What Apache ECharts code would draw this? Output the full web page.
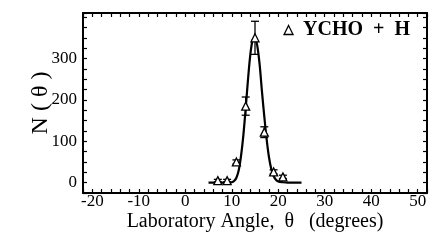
<!DOCTYPE html>
<html>
<head>
<meta charset="utf-8">
<script src="https://cdn.jsdelivr.net/npm/echarts@6/dist/echarts.min.js"></script>
<style>
  html, body { margin: 0; padding: 0; background: #fff; }
  #chart { width: 430px; height: 244px; }
</style>
</head>
<body>
<div id="chart"></div>
<script>
// measured points (angle, counts, error)
const angles = [7, 9, 11, 13, 15, 17, 19, 21];
const counts = [5, 5, 50, 185, 350, 122, 26, 14];
const errors = [3, 3, 5, 22, 40, 13, 5, 4];

// fitted curve
const fitX = [5, 6, 7, 8, 9, 10, 10.5, 11, 11.5, 12, 12.5, 13, 13.5, 14, 14.5, 15, 15.5, 16, 16.5, 17, 17.5, 18, 18.5, 19, 19.5, 20, 21, 22, 23, 24, 25];
const fitY = [0, 0, 0, 0, 0, 1, 4, 12, 30, 65, 115, 180, 250, 310, 345, 350, 330, 285, 220, 160, 105, 62, 33, 16, 7, 3, 1, 0, 0, 0, 0];

const serif = "Liberation Serif";

const chart = echarts.init(document.getElementById("chart"));

const xBase = {
  type: "value",
  min: -22,
  max: 52,
  interval: 2,
  axisLine: { show: true, onZero: false, lineStyle: { color: "#000", width: 2 } },
  axisTick: { inside: true, length: 4, lineStyle: { color: "#000", width: 1.2 } },
  splitLine: { show: false },
};
const yBase = {
  type: "value",
  min: -25,
  max: 410,
  interval: 25,
  axisLine: { show: true, onZero: false, lineStyle: { color: "#000", width: 2 } },
  axisTick: { inside: true, length: 4, lineStyle: { color: "#000", width: 1.2 } },
  splitLine: { show: false },
};

chart.setOption({
  animation: false,
  grid: { left: 83, right: 2, top: 13, bottom: 51 },
  legend: {
    data: [{
      name: "YCHO + H",
      icon: "triangle",
      itemStyle: { color: "#fff", borderColor: "#000", borderWidth: 1.3, opacity: 1 },
    }],
    right: 15,
    top: 15,
    itemWidth: 9,
    itemHeight: 9,
    itemGap: 8,
    formatter: () => " YCHO  +  H",
    textStyle: { fontFamily: serif, fontSize: 20, fontWeight: "bold", color: "#000" },
  },
  xAxis: [
    Object.assign({}, xBase, {
      position: "bottom",
      name: "Laboratory Angle,  \u03b8   (degrees)",
      nameLocation: "middle",
      nameGap: 19,
      nameMoveOverlap: false,
      nameTextStyle: { fontFamily: serif, fontSize: 20, color: "#000" },
      axisLabel: {
        fontFamily: serif,
        fontSize: 17,
        color: "#000",
        margin: 0,
        formatter: (v) => (v % 10 === 0 ? String(v) : ""),
      },
    }),
    Object.assign({}, xBase, { position: "top", axisLabel: { show: false } }),
  ],
  yAxis: [
    Object.assign({}, yBase, {
      position: "left",
      name: "N ( \u03b8 )",
      nameLocation: "middle",
      nameGap: 30,
      nameMoveOverlap: false,
      nameTextStyle: { fontFamily: serif, fontSize: 24, color: "#000" },
      axisLabel: {
        fontFamily: serif,
        fontSize: 17,
        color: "#000",
        margin: 6,
        formatter: (v) => (v >= 0 && v <= 300 && v % 100 === 0 ? String(v) : ""),
      },
    }),
    Object.assign({}, yBase, { position: "right", axisLabel: { show: false } }),
  ],
  series: [
    {
      name: "fit",
      type: "line",
      smooth: 0.3,
      symbol: "none",
      data: fitX.map((x, i) => [x, fitY[i]]),
      lineStyle: { color: "#000", width: 2.2 },
      z: 2,
    },
    {
      name: "errors",
      type: "custom",
      data: angles.map((x, i) => [x, counts[i], errors[i]]),
      renderItem: (params, api) => {
        const x = api.value(0);
        const y = api.value(1);
        const e = api.value(2);
        const top = api.coord([x, y + e]);
        const bot = api.coord([x, y - e]);
        const w = 4;
        const style = { stroke: "#000", lineWidth: 1.3 };
        return {
          type: "group",
          children: [
            { type: "line", shape: { x1: top[0], y1: top[1], x2: bot[0], y2: bot[1] }, style },
            { type: "line", shape: { x1: top[0] - w, y1: top[1], x2: top[0] + w, y2: top[1] }, style },
            { type: "line", shape: { x1: bot[0] - w, y1: bot[1], x2: bot[0] + w, y2: bot[1] }, style },
          ],
        };
      },
      z: 3,
    },
    {
      name: "YCHO + H",
      type: "scatter",
      symbol: "triangle",
      symbolSize: 8,
      data: angles.map((x, i) => [x, counts[i]]),
      itemStyle: { color: "#fff", borderColor: "#000", borderWidth: 1.3, opacity: 1 },
      z: 4,
    },
  ],
});
</script>
</body>
</html>
